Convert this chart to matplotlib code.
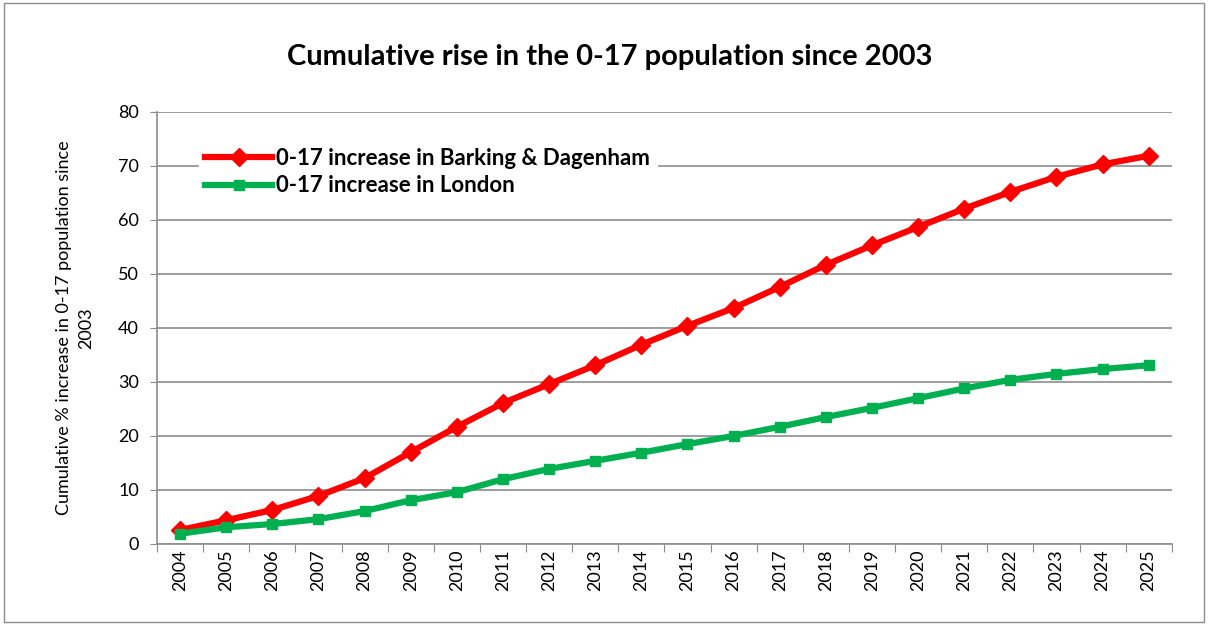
import matplotlib.pyplot as plt
from matplotlib.patches import Rectangle

years = [str(y) for y in range(2004, 2026)]
barking = [2.6, 4.4, 6.3, 8.9, 12.2, 17.0, 21.7, 26.1, 29.6, 33.1, 36.9,
           40.4, 43.7, 47.6, 51.7, 55.3, 58.7, 62.1, 65.2, 68.0, 70.3, 71.9]
london = [1.9, 3.1, 3.7, 4.6, 6.1, 8.1, 9.6, 12.0, 13.9, 15.4, 16.9,
          18.5, 20.0, 21.7, 23.5, 25.2, 27.0, 28.8, 30.4, 31.5, 32.4, 33.1]

plt.rcParams['font.family'] = ['Lato', 'DejaVu Sans']

fig = plt.figure(figsize=(12.08, 6.25), dpi=100)
fig.patches.append(Rectangle((0.003, 0.005), 0.994, 0.99, transform=fig.transFigure,
                             fill=False, edgecolor='#8c8c8c', linewidth=1))
ax = fig.add_axes([0.130, 0.1296, 0.840, 0.6912])

x = list(range(len(years)))
ax.plot(x, barking, color='#ff0000', linewidth=4.5, marker='D', markersize=9,
        label='0-17 increase in Barking & Dagenham', zorder=3)
ax.plot(x, london, color='#00b050', linewidth=4.5, marker='s', markersize=7,
        label='0-17 increase in London', zorder=3)

ax.set_xlim(-0.5, len(years) - 0.5)
ax.set_ylim(0, 80)
ax.set_yticks(range(0, 81, 10))
ax.tick_params(axis='y', labelsize=13, length=5, color='#8c8c8c', pad=8)

# tick marks sit between the categories, labels in the middle
ax.set_xticks([i - 0.5 for i in range(len(years) + 1)], minor=False)
ax.set_xticklabels([])
ax.set_xticks(x, minor=True)
ax.set_xticklabels(years, minor=True, rotation=90, fontsize=13)
ax.tick_params(axis='x', which='major', length=6, color='#8c8c8c')
ax.tick_params(axis='x', which='minor', length=0, pad=4)

ax.grid(axis='y', color='#8c8c8c', linewidth=1.2)
ax.set_axisbelow(True)
for side in ['top', 'right']:
    ax.spines[side].set_visible(False)
for side in ['left', 'bottom']:
    ax.spines[side].set_color('#8c8c8c')
    ax.spines[side].set_linewidth(1.2)

ax.set_ylabel('Cumulative % increase in 0-17 population since\n2003', fontsize=13,
              linespacing=1.45)
ax.yaxis.set_label_coords(-0.062, 0.5)

fig.text(0.505, 0.909, 'Cumulative rise in the 0-17 population since 2003',
         ha='center', va='center', fontsize=21, fontweight='bold')

leg = ax.legend(loc='center left', bbox_to_anchor=(0.041, 0.861), frameon=True,
                fancybox=False, edgecolor='white', framealpha=1,
                prop={'weight': 'bold', 'size': 16}, handlelength=3.0,
                handletextpad=0.2, borderpad=0.3, labelspacing=0.3,
                borderaxespad=0)

fig.savefig('out.png', dpi=100)
